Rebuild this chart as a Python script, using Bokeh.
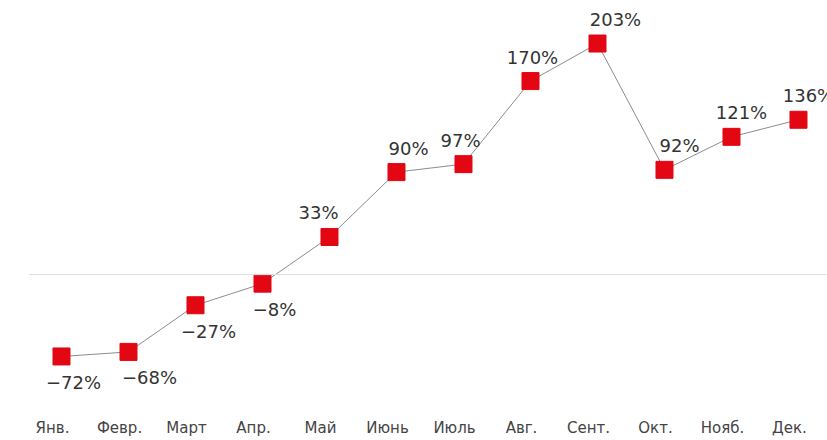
from bokeh.plotting import figure
from bokeh.models import ColumnDataSource, Range1d, LinearAxis, Span, FixedTicker
from bokeh.embed import file_html
from bokeh.resources import INLINE
from bokeh.core.properties import value

months = ["Янв.", "Февр.", "Март", "Апр.", "Май", "Июнь", "Июль", "Авг.", "Сент.", "Окт.", "Нояб.", "Дек."]
growth = [-72, -68, -27, -8, 33, 90, 97, 170, 203, 92, 121, 136]

# label placement (screen pixels) - styling only
label_dx = [12, 21, 13, 12, -11, 12, -3, 2, 18, 15, 10, 10]

idx = list(range(len(months)))
labels = [(f"{v}%").replace("-", "\u2212") for v in growth]
dy = [26 if v < 0 else -24 for v in growth]

src = ColumnDataSource(dict(x=idx, y=growth, lab=labels, dx=label_dx, dy=dy))

x0, x1 = -0.4925, 11.433
p = figure(width=827, height=440, output_backend="svg", toolbar_location=None,
           x_range=Range1d(x0, x1), y_range=Range1d(-110.7, 240.8),
           x_axis_location=None, y_axis_location=None,
           min_border_left=28, min_border_right=0, min_border_top=0, min_border_bottom=40)
p.outline_line_color = None
p.xgrid.visible = False
p.ygrid.visible = False

shift = 0.134
p.extra_x_ranges = {"lab": Range1d(x0 + shift, x1 + shift)}
ax = LinearAxis(x_range_name="lab", ticker=FixedTicker(ticks=idx))
ax.major_label_overrides = {i: m for i, m in zip(idx, months)}
ax.axis_line_color = None
ax.major_tick_line_color = None
ax.minor_tick_line_color = None
ax.major_label_standoff = 12
ax.major_label_text_font = "DejaVu Sans"
ax.major_label_text_font_size = "15px"
ax.major_label_text_color = "#444444"
p.add_layout(ax, "below")

p.add_layout(Span(location=0, dimension="width", line_color="#e0e0e0", line_width=1))

p.line("x", "y", source=src, line_color="#8c8c8c", line_width=1)
p.scatter("x", "y", source=src, marker="square", size=17, fill_color="#e30613", line_color="#e30613")
p.text("x", "y", text="lab", source=src, x_offset="dx", y_offset="dy",
       text_align="center", text_baseline="middle",
       text_font=value("DejaVu Sans"), text_font_size="18px", text_color="#333333")

open("out.html", "w").write(file_html(p, INLINE))
